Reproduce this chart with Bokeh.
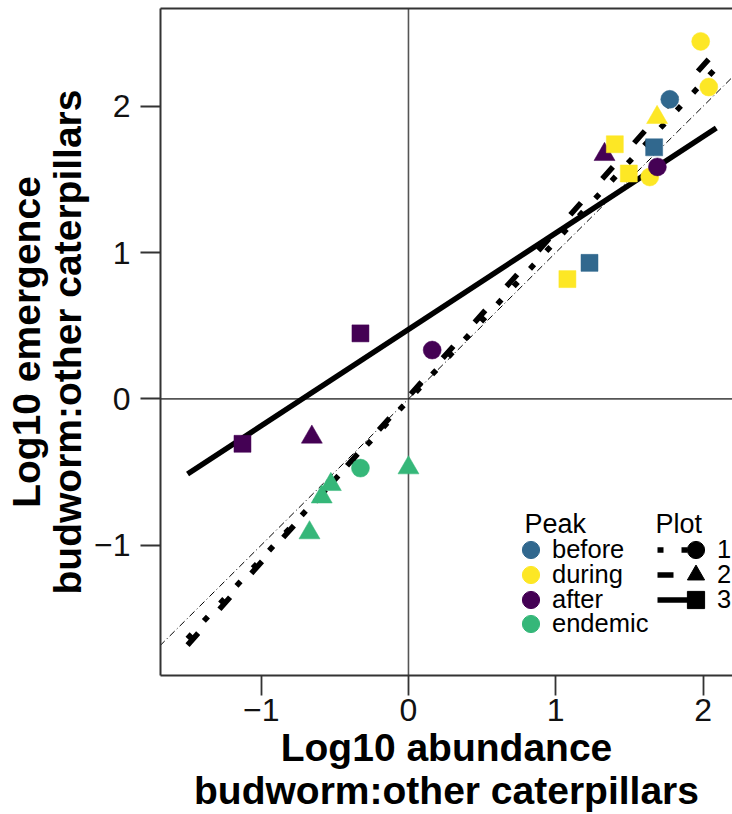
import numpy as np
from bokeh.plotting import figure
from bokeh.models import (ColumnDataSource, Range1d, LinearAxis, FixedTicker, Span, Slope,
                          Legend, LegendItem, Label)
from bokeh.transform import factor_cmap
from bokeh.embed import file_html
from bokeh.resources import INLINE

# ---------------- data ----------------
peak_levels = ["before", "during", "after", "endemic"]
peak_colors = ["#31688E", "#FDE725", "#440154", "#35B779"]
plot_levels = ["1", "2", "3"]
plot_markers = ["circle", "triangle", "square"]

# Plot 1 (circles)
p1_x = [1.774, 1.984, 2.039, 1.638, 1.690, 0.161, -0.326]
p1_y = [2.048, 2.444, 2.132, 1.517, 1.586, 0.334, -0.473]
p1_peak = ["before", "during", "during", "during", "after", "after", "endemic"]
# Plot 2 (triangles)
p2_x = [1.688, 1.331, -0.656, 0.000, -0.527, -0.589, -0.672]
p2_y = [1.924, 1.671, -0.261, -0.471, -0.585, -0.670, -0.915]
p2_peak = ["during", "after", "after", "endemic", "endemic", "endemic", "endemic"]
# Plot 3 (squares)
p3_x = [1.401, 1.668, 1.496, 1.229, 1.079, -0.326, -1.127]
p3_y = [1.741, 1.720, 1.541, 0.930, 0.819, 0.448, -0.307]
p3_peak = ["during", "before", "during", "before", "during", "after", "after"]

# per-plot linear fits
fit_slope = [1.087, 1.132, 0.659]
fit_intercept = [-0.008, 0.015, 0.475]
fit_x_range = [-1.5, 2.09]

# reference lines
one_to_one_slope = 1.0
one_to_one_intercept = 0.0
zero_level = 0.0

tick_values = [-1, 0, 1, 2]
tick_labels = ["\u22121", "0", "1", "2"]

x_title = "Log10 abundance\nbudworm:other caterpillars"
y_title = "Log10 emergence\nbudworm:other caterpillars"

# ---------------- styles ----------------
FONT = "Liberation Sans"
AX_COL = "#333333"
line_dashes = ["6 18", "16 32", "solid"]
marker_sizes = [18, 21, 17]

W, H = 732, 814
FRAME_L, FRAME_T, FRAME_R = 160, 8, 0
FRAME_B = H - 676

p = figure(width=W, height=H, output_backend="svg", toolbar_location=None,
           x_range=Range1d(-1.6836, 2.2), y_range=Range1d(-1.8908, 2.6689),
           min_border_left=FRAME_L, min_border_right=FRAME_R,
           min_border_top=FRAME_T, min_border_bottom=FRAME_B,
           x_axis_location=None, y_axis_location=None)
p.grid.visible = False
p.outline_line_color = None
p.background_fill_color = "white"

overrides = {v: t for v, t in zip(tick_values, tick_labels)}


def make_axis(standoff, label, label_standoff, lh):
    ax = LinearAxis(ticker=FixedTicker(ticks=tick_values),
                    major_label_overrides=overrides)
    ax.axis_line_color = AX_COL
    ax.axis_line_width = 2
    ax.major_tick_line_color = AX_COL
    ax.major_tick_line_width = 1.8
    ax.major_tick_out = 20
    ax.major_tick_in = 0
    ax.minor_tick_out = 0
    ax.minor_tick_in = 0
    ax.major_label_text_font = FONT
    ax.major_label_text_font_size = "32px"
    ax.major_label_text_color = "#111111"
    ax.major_label_standoff = standoff
    ax.axis_label = label
    ax.axis_label_text_font = FONT
    ax.axis_label_text_font_size = "39px"
    ax.axis_label_text_font_style = "bold"
    ax.axis_label_text_color = "black"
    ax.axis_label_text_line_height = lh
    ax.axis_label_standoff = label_standoff
    return ax


p.add_layout(make_axis(3, x_title, 2, 1.0), "below")
p.add_layout(make_axis(10, y_title, 2, 0.95), "left")
top_axis = LinearAxis(ticker=FixedTicker(ticks=[]), axis_line_color=AX_COL, axis_line_width=2,
                      major_tick_out=0, major_tick_in=0, minor_tick_out=0, minor_tick_in=0,
                      major_label_text_font_size="0px")
p.add_layout(top_axis, "above")

# zero lines and 1:1 line
p.add_layout(Span(location=zero_level, dimension="height", line_color="#555555",
                  line_width=1.6, level="underlay"))
p.add_layout(Span(location=zero_level, dimension="width", line_color="#555555",
                  line_width=1.6, level="underlay"))
p.add_layout(Slope(gradient=one_to_one_slope, y_intercept=one_to_one_intercept,
                   line_color="black", line_width=1, line_dash="7 3 1 3", level="underlay"))

# fitted lines
fit_x = np.array(fit_x_range)
line_renderers = []
for k in range(3):
    yy = fit_slope[k] * fit_x + fit_intercept[k]
    r = p.line(fit_x, yy, line_color="black", line_width=5.5, line_dash=line_dashes[k])
    line_renderers.append(r)

# points
cmap = factor_cmap("peak", palette=peak_colors, factors=peak_levels)
for k, (xs, ys, pk) in enumerate([(p1_x, p1_y, p1_peak), (p2_x, p2_y, p2_peak),
                                   (p3_x, p3_y, p3_peak)]):
    src = ColumnDataSource(dict(x=xs, y=ys, peak=pk))
    p.scatter("x", "y", source=src, marker=plot_markers[k], size=marker_sizes[k],
              fill_color=cmap, line_color=cmap, line_width=0.5)

# ---------------- legends (one Legend per row for exact spacing) ----------------
row_centers = [550.7, 575.3, 600.0, 624.7]   # page px of legend rows
FRAME_BOTTOM_PX = 676
GH = 43


def row_vy(i):
    return FRAME_BOTTOM_PX - (row_centers[i] + GH / 2)


def add_legend(item, vx, vy, gw):
    lg = Legend(items=[item], location=(vx, vy))
    lg.background_fill_alpha = 0
    lg.border_line_alpha = 0
    lg.inactive_fill_alpha = 0
    lg.padding = 0
    lg.margin = 0
    lg.spacing = 0
    lg.glyph_height = GH
    lg.glyph_width = gw
    lg.label_standoff = 0
    lg.label_width = 0
    lg.label_text_font = FONT
    lg.label_text_font_size = "25.5px"
    lg.label_text_color = "black"
    p.add_layout(lg)


nan1 = np.array([np.nan])
for i, (lev, col) in enumerate(zip(peak_levels, peak_colors)):
    r = p.scatter(x=nan1, y=nan1, marker="circle", size=17, fill_color=col, line_color=col)
    add_legend(LegendItem(label=lev, renderers=[r]), 349, row_vy(i), GH)

for i, (lev, mk) in enumerate(zip(plot_levels, plot_markers)):
    add_legend(LegendItem(label="", renderers=[line_renderers[i]]), 497, row_vy(i), 35)
    r = p.scatter(x=nan1, y=nan1, marker=mk, size=17, fill_color="black", line_color="black")
    add_legend(LegendItem(label=lev, renderers=[r]), 514, row_vy(i), GH)

# legend titles
p.add_layout(Label(x=364, y=152, x_units="screen", y_units="screen", text="Peak",
                   text_font=FONT, text_font_size="27px", text_color="black",
                   text_baseline="alphabetic", text_align="left"))
p.add_layout(Label(x=495, y=152, x_units="screen", y_units="screen", text="Plot",
                   text_font=FONT, text_font_size="27px", text_color="black",
                   text_baseline="alphabetic", text_align="left"))

open("out.html", "w").write(file_html(p, INLINE))
